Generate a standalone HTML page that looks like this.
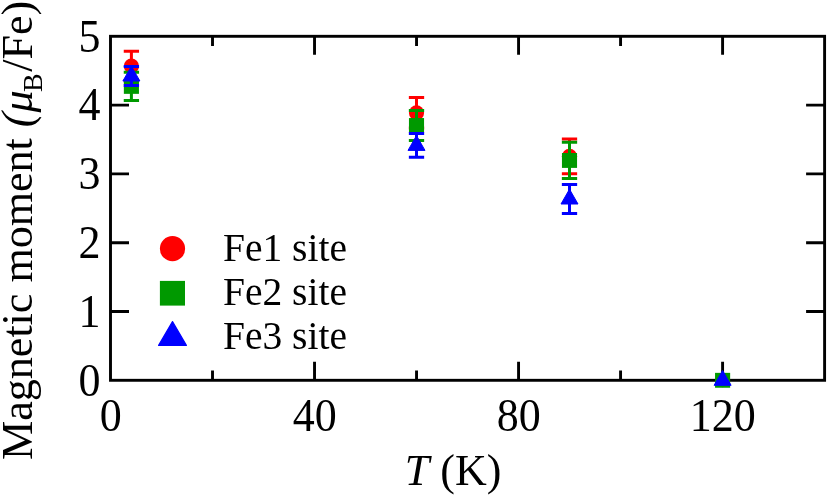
<!DOCTYPE html>
<html><head><meta charset="utf-8"><title>Magnetic moment vs T</title>
<style>html,body{margin:0;padding:0;background:#fff}svg{display:block}text{font-family:"Liberation Serif","Times New Roman",serif;fill:#000}</style></head>
<body>
<svg width="827" height="495" viewBox="0 0 827 495">
<rect width="827" height="495" fill="#fff"/>
<rect x="110.5" y="36.3" width="714.10" height="344.00" fill="none" stroke="#000" stroke-width="2.9"/>
<path d="M314.53 380.3v-18.5M314.53 36.3v18.5M518.56 380.3v-18.5M518.56 36.3v18.5M722.59 380.3v-18.5M722.59 36.3v18.5M212.51 380.3v-9.8M212.51 36.3v9.8M416.54 380.3v-9.8M416.54 36.3v9.8M620.57 380.3v-9.8M620.57 36.3v9.8M110.5 311.50h18.5M824.6 311.50h-18.5M110.5 242.70h18.5M824.6 242.70h-18.5M110.5 173.90h18.5M824.6 173.90h-18.5M110.5 105.10h18.5M824.6 105.10h-18.5" fill="none" stroke="#000" stroke-width="2.9"/>
<g font-size="44" text-anchor="end" transform="scale(1 1.06)">
<text x="100.4" y="373.21">0</text>
<text x="100.4" y="308.30">1</text>
<text x="100.4" y="243.40">2</text>
<text x="100.4" y="178.49">3</text>
<text x="100.4" y="113.58">4</text>
<text x="100.4" y="48.68">5</text>
</g>
<g font-size="44" text-anchor="middle" transform="scale(1 1.06)">
<text x="110.70" y="406.98">0</text>
<text x="314.73" y="406.98">40</text>
<text x="518.76" y="406.98">80</text>
<text x="722.79" y="406.98">120</text>
</g>
<text x="404.8" y="484.7" font-size="44"><tspan font-style="italic">T</tspan> (K)</text>
<text transform="translate(32.3 460) rotate(-90)" font-size="44.2" letter-spacing="-0.06">Magnetic moment <tspan font-style="italic">(μ</tspan><tspan font-size="28" dy="10" dx="-1.6">B</tspan><tspan dy="-10" dx="1.6">/Fe)</tspan></text>
<circle cx="172.5" cy="248.7" r="12.6" fill="#f00"/>
<rect x="159.9" y="280.9" width="25.1" height="24.7" fill="#090"/>
<path d="M172.5 321.6L186.4 345.4H158.6Z" fill="#00f" stroke="#00f" stroke-width="1.2" stroke-linejoin="round"/>
<g font-size="39.5">
<text x="223" y="261.1">Fe</text><text x="262.50" y="254.73" transform="scale(1 1.025)">1</text><text x="292.12" y="261.1">site</text>
<text x="223" y="304.9">Fe</text><text x="262.50" y="297.46" transform="scale(1 1.025)">2</text><text x="292.12" y="304.9">site</text>
<text x="223" y="349.2">Fe</text><text x="262.50" y="340.68" transform="scale(1 1.025)">3</text><text x="292.12" y="349.2">site</text>
</g>
<path d="M131.4 51.30V81.10M123.75 51.30h15.3M123.75 81.10h15.3" fill="none" stroke="#f00" stroke-width="3"/>
<circle cx="131.4" cy="66.20" r="7.6" fill="#f00"/>
<path d="M131.4 72.20V100.60M123.75 72.20h15.3M123.75 100.60h15.3" fill="none" stroke="#090" stroke-width="3"/>
<rect x="123.85" y="78.95" width="15.1" height="14.9" fill="#090"/>
<path d="M131.4 66.50V85.50M123.75 66.50h15.3M123.75 85.50h15.3" fill="none" stroke="#00f" stroke-width="3"/>
<path d="M131.4 66.20L139.90 81.00H122.90Z" fill="#00f" stroke="#00f" stroke-width="1" stroke-linejoin="round"/>
<path d="M416.5 97.60V128.00M408.85 97.60h15.3M408.85 128.00h15.3" fill="none" stroke="#f00" stroke-width="3"/>
<circle cx="416.5" cy="112.80" r="7.6" fill="#f00"/>
<path d="M416.5 110.50V140.50M408.85 110.50h15.3M408.85 140.50h15.3" fill="none" stroke="#090" stroke-width="3"/>
<rect x="408.95" y="118.05" width="15.1" height="14.9" fill="#090"/>
<path d="M416.5 133.60V157.20M408.85 133.60h15.3M408.85 157.20h15.3" fill="none" stroke="#00f" stroke-width="3"/>
<path d="M416.5 135.60L425.00 150.40H408.00Z" fill="#00f" stroke="#00f" stroke-width="1" stroke-linejoin="round"/>
<path d="M569.5 139.00V173.70M561.85 139.00h15.3M561.85 173.70h15.3" fill="none" stroke="#f00" stroke-width="3"/>
<circle cx="569.5" cy="156.35" r="7.6" fill="#f00"/>
<path d="M569.5 142.30V178.60M561.85 142.30h15.3M561.85 178.60h15.3" fill="none" stroke="#090" stroke-width="3"/>
<rect x="561.95" y="153.00" width="15.1" height="14.9" fill="#090"/>
<path d="M569.5 184.50V213.50M561.85 184.50h15.3M561.85 213.50h15.3" fill="none" stroke="#00f" stroke-width="3"/>
<path d="M569.5 189.20L578.00 204.00H561.00Z" fill="#00f" stroke="#00f" stroke-width="1" stroke-linejoin="round"/>
<circle cx="722.6" cy="380.30" r="7.0" fill="#f00"/>
<rect x="715.05" y="372.85" width="15.1" height="14.9" fill="#090"/>
<path d="M722.6 370.50L731.10 385.30H714.10Z" fill="#00f" stroke="#00f" stroke-width="1" stroke-linejoin="round"/>
</svg>
</body></html>
